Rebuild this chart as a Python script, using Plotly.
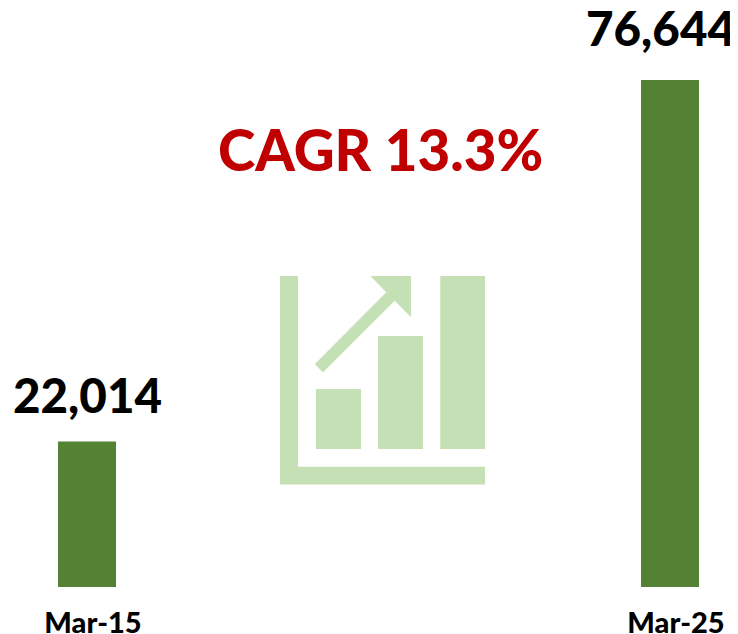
import plotly.graph_objects as go

categories = ["Mar-15", "Mar-25"]
values = [22014, 76644]
cagr_label = "CAGR 13.3%"

# The page adds an 8 px margin, so the figure is 8 px smaller and reference pixels are offset by 8.
OFF = 8
W, H = 738 - OFF, 634 - OFF
BASE_Y = 587 - OFF
FONT = "Lato, Carlito, Calibri, sans-serif"
ICON = "#C5E0B4"
BAR = "#548235"


def px(x):
    return (x - OFF) / W


def py(y):
    return 1 - (y - OFF) / H


def rect(x0, y0, x1, y1):
    return dict(type="rect", xref="paper", yref="paper", x0=px(x0), x1=px(x1),
                y0=py(y1), y1=py(y0), fillcolor=ICON, line_width=0, layer="below")


def poly(points):
    d = "M " + " L ".join(f"{px(x):.5f},{py(y):.5f}" for x, y in points) + " Z"
    return dict(type="path", xref="paper", yref="paper", path=d, fillcolor=ICON,
                line_width=0, layer="below")


shapes = [
    poly([(280, 276), (298, 276), (298, 466.7), (485, 466.7), (485, 484.5), (280, 484.5)]),
    rect(316, 389, 361, 449),
    rect(378, 336, 423, 449),
    rect(440.3, 276, 485, 449),
    poly([(370.3, 276), (411, 276), (411, 317), (394.7, 300.7), (323, 372.3),
          (314.7, 364.3), (386.3, 292.3)]),
]

fig = go.Figure(go.Bar(x=categories, y=values, marker=dict(color=BAR, line_width=0),
                       width=58 / 583, hoverinfo="skip"))

label_xshift = [0, -10]
label_yshift = [16, 22]
annotations = [
    dict(x=c, y=v, xref="x", yref="y", text=f"{v:,}", showarrow=False, yanchor="bottom",
         xshift=sx, yshift=sy, font=dict(family=FONT, size=47.5, color="black", weight=900))
    for c, v, sx, sy in zip(categories, values, label_xshift, label_yshift)
]
annotations.append(dict(x=px(381), y=py(149), xref="paper", yref="paper", text=cagr_label,
                        showarrow=False, xanchor="center", yanchor="middle",
                        font=dict(family=FONT, size=56.5, color="#C00000", weight=900)))

fig.update_layout(
    width=W, height=H, autosize=False,
    margin=dict(l=0, r=0, t=0, b=0, autoexpand=False),
    paper_bgcolor="white", plot_bgcolor="white",
    showlegend=False, shapes=shapes, annotations=annotations,
    xaxis=dict(type="category", range=[-(87 - OFF) / 583, (738 - 87) / 583], showgrid=False,
               zeroline=False, showline=False, ticks="", ticklabelshift=6,
               ticklabelstandoff=16, automargin=False,
               tickfont=dict(family=FONT, size=29, color="black", weight=900)),
    yaxis=dict(range=[0, BASE_Y / 6.615 * 1000], domain=[(H - BASE_Y) / H, 1], visible=False,
               automargin=False),
)
fig.write_html("out.html", config=dict(displayModeBar=False))
